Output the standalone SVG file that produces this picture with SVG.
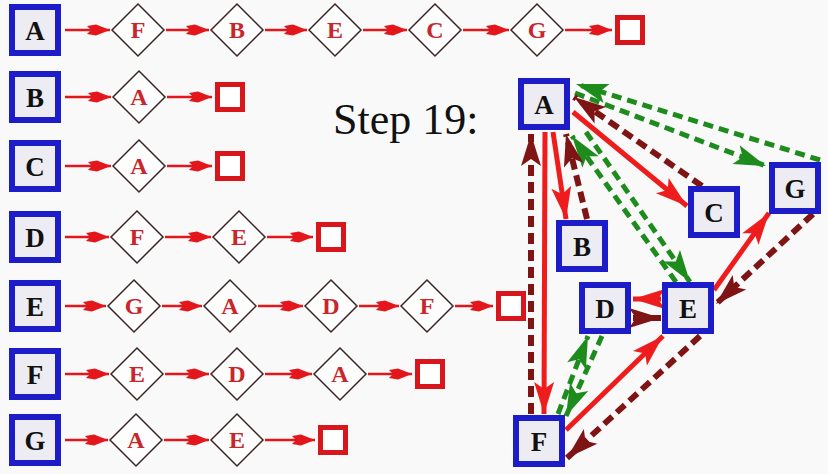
<svg xmlns="http://www.w3.org/2000/svg" width="828" height="474" viewBox="0 0 828 474">
<style>
.bg{fill:#f9f9f9}
.box{fill:#ececf2;stroke:#1c1cc8;stroke-width:6}
.lbl{font-family:"Liberation Serif",serif;font-weight:bold;font-size:27px;fill:#111;text-anchor:middle}
.dia{fill:#fdfdfd;stroke:#3a2626;stroke-width:1.5}
.dlbl{font-family:"Liberation Serif",serif;font-weight:bold;font-size:24px;fill:#c8262a;text-anchor:middle}
.end{fill:#fff;stroke:#d9161c;stroke-width:5}
.la{stroke:#e3161c;stroke-width:2.5;fill:none;marker-end:url(#mList)}
.red{stroke:#ee1c1c;stroke-width:5;fill:none;marker-end:url(#mRed)}
.dred{stroke:#7e1414;stroke-width:6;fill:none;stroke-dasharray:11 6;marker-end:url(#mDred)}
.dred2{stroke:#7e1414;stroke-width:6;fill:none;marker-end:url(#mDred)}
.grn{stroke:#1d8c1d;stroke-width:5;fill:none;stroke-dasharray:10 6;marker-end:url(#mGrn)}
.step{font-family:"Liberation Serif",serif;font-size:44px;fill:#111}
</style>
<defs>
<marker id="mList" markerUnits="userSpaceOnUse" viewBox="-24 -7 26 14" refX="0" refY="0" markerWidth="26" markerHeight="14" orient="auto">
<path d="M0,0 L-14,-5.5 L-23,-4 L-19,0 L-23,4 L-14,5.5 Z" fill="#e3161c"/>
</marker>
<marker id="mRed" markerUnits="userSpaceOnUse" viewBox="-34 -11 36 22" refX="0" refY="0" markerWidth="36" markerHeight="22" orient="auto">
<path d="M0,0 L-32,-10 L-25,0 L-32,10 Z" fill="#ee1c1c"/>
</marker>
<marker id="mDred" markerUnits="userSpaceOnUse" viewBox="-34 -11 36 22" refX="0" refY="0" markerWidth="36" markerHeight="22" orient="auto">
<path d="M0,0 L-32,-10 L-25,0 L-32,10 Z" fill="#7e1414"/>
</marker>
<marker id="mGrn" markerUnits="userSpaceOnUse" viewBox="-34 -11 36 22" refX="0" refY="0" markerWidth="36" markerHeight="22" orient="auto">
<path d="M0,0 L-32,-10 L-25,0 L-32,10 Z" fill="#1d8c1d"/>
</marker>
</defs>
<rect class="bg" x="0" y="0" width="828" height="474"/>

<g id="connectors">
<!-- adjacency lists -->
<line class="la" x1="65" y1="30" x2="110" y2="30"/>
<line class="la" x1="166" y1="30" x2="209" y2="30"/>
<line class="la" x1="265" y1="30" x2="307" y2="30"/>
<line class="la" x1="363" y1="30" x2="407" y2="30"/>
<line class="la" x1="463" y1="30" x2="509" y2="30"/>
<line class="la" x1="565" y1="30" x2="612" y2="30"/>

<line class="la" x1="65" y1="97" x2="111" y2="97"/>
<line class="la" x1="167" y1="97" x2="212" y2="97"/>

<line class="la" x1="65" y1="166" x2="111" y2="166"/>
<line class="la" x1="167" y1="166" x2="212" y2="166"/>

<line class="la" x1="65" y1="237" x2="109" y2="237"/>
<line class="la" x1="165" y1="237" x2="211" y2="237"/>
<line class="la" x1="267" y1="237" x2="313" y2="237"/>

<line class="la" x1="65" y1="306" x2="106" y2="306"/>
<line class="la" x1="162" y1="306" x2="202" y2="306"/>
<line class="la" x1="258" y1="306" x2="303" y2="306"/>
<line class="la" x1="359" y1="306" x2="399" y2="306"/>
<line class="la" x1="455" y1="306" x2="493" y2="306"/>

<line class="la" x1="65" y1="374" x2="109" y2="374"/>
<line class="la" x1="165" y1="374" x2="209" y2="374"/>
<line class="la" x1="265" y1="374" x2="312" y2="374"/>
<line class="la" x1="368" y1="374" x2="412" y2="374"/>

<line class="la" x1="65" y1="440" x2="108" y2="440"/>
<line class="la" x1="164" y1="440" x2="209" y2="440"/>
<line class="la" x1="265" y1="440" x2="315" y2="440"/>

<!-- graph: green dashed -->
<line class="grn" x1="820" y1="160" x2="576" y2="84"/>
<line class="grn" x1="575" y1="93" x2="766" y2="166"/>
<line class="grn" x1="676" y1="282" x2="572" y2="136"/>
<line class="grn" x1="586" y1="132" x2="690" y2="282"/>
<line class="grn" x1="558" y1="414" x2="588" y2="336"/>
<line class="grn" x1="602" y1="336" x2="566" y2="416"/>

<!-- graph: dark red dashed (returns) -->
<line class="dred" x1="702" y1="186" x2="574" y2="97"/>
<line class="dred" x1="587" y1="219" x2="566" y2="134"/>
<line class="dred" x1="531" y1="414" x2="531" y2="134"/>
<line class="dred" x1="813" y1="214" x2="716" y2="304"/>
<line class="dred" x1="700" y1="336" x2="567" y2="458"/>
<line class="dred2" x1="633" y1="318" x2="661" y2="318"/>

<!-- graph: red solid (tree edges) -->
<line class="red" x1="573" y1="112" x2="687" y2="206"/>
<line class="red" x1="553" y1="132" x2="566" y2="219"/>
<line class="red" x1="545" y1="132" x2="544" y2="414"/>
<line class="red" x1="566" y1="430" x2="663" y2="336"/>
<line class="red" x1="714" y1="290" x2="769" y2="213"/>
<line class="red" x1="661" y1="299" x2="633" y2="299"/>
</g>

<text class="step" x="333" y="134">Step 19:</text>

<!-- adjacency list heads -->
<g id="list-A"><rect class="box" x="12" y="7" width="46" height="46"/><text class="lbl" x="35" y="40">A</text></g>
<g id="list-B"><rect class="box" x="12" y="74" width="46" height="46"/><text class="lbl" x="35" y="107">B</text></g>
<g id="list-C"><rect class="box" x="12" y="143" width="46" height="46"/><text class="lbl" x="35" y="176">C</text></g>
<g id="list-D"><rect class="box" x="12" y="214" width="46" height="46"/><text class="lbl" x="35" y="247">D</text></g>
<g id="list-E"><rect class="box" x="12" y="283" width="46" height="46"/><text class="lbl" x="35" y="316">E</text></g>
<g id="list-F"><rect class="box" x="12" y="351" width="46" height="46"/><text class="lbl" x="35" y="384">F</text></g>
<g id="list-G"><rect class="box" x="12" y="417" width="46" height="46"/><text class="lbl" x="35" y="450">G</text></g>

<!-- row A entries -->
<g id="A-1"><polygon class="dia" points="138,4 164,30 138,56 112,30"/><text class="dlbl" x="138" y="38">F</text></g>
<g id="A-2"><polygon class="dia" points="237,4 263,30 237,56 211,30"/><text class="dlbl" x="237" y="38">B</text></g>
<g id="A-3"><polygon class="dia" points="335,4 361,30 335,56 309,30"/><text class="dlbl" x="335" y="38">E</text></g>
<g id="A-4"><polygon class="dia" points="435,4 461,30 435,56 409,30"/><text class="dlbl" x="435" y="38">C</text></g>
<g id="A-5"><polygon class="dia" points="537,4 563,30 537,56 511,30"/><text class="dlbl" x="537" y="38">G</text></g>
<g id="A-end"><rect class="end" x="617.5" y="17.5" width="25" height="25"/></g>

<!-- row B -->
<g id="B-1"><polygon class="dia" points="139,71 165,97 139,123 113,97"/><text class="dlbl" x="139" y="105">A</text></g>
<g id="B-end"><rect class="end" x="217.5" y="84.5" width="25" height="25"/></g>

<!-- row C -->
<g id="C-1"><polygon class="dia" points="139,140 165,166 139,192 113,166"/><text class="dlbl" x="139" y="174">A</text></g>
<g id="C-end"><rect class="end" x="217.5" y="153.5" width="25" height="25"/></g>

<!-- row D -->
<g id="D-1"><polygon class="dia" points="137,211 163,237 137,263 111,237"/><text class="dlbl" x="137" y="245">F</text></g>
<g id="D-2"><polygon class="dia" points="239,211 265,237 239,263 213,237"/><text class="dlbl" x="239" y="245">E</text></g>
<g id="D-end"><rect class="end" x="318.5" y="224.5" width="25" height="25"/></g>

<!-- row E -->
<g id="E-1"><polygon class="dia" points="134,280 160,306 134,332 108,306"/><text class="dlbl" x="134" y="314">G</text></g>
<g id="E-2"><polygon class="dia" points="230,280 256,306 230,332 204,306"/><text class="dlbl" x="230" y="314">A</text></g>
<g id="E-3"><polygon class="dia" points="331,280 357,306 331,332 305,306"/><text class="dlbl" x="331" y="314">D</text></g>
<g id="E-4"><polygon class="dia" points="427,280 453,306 427,332 401,306"/><text class="dlbl" x="427" y="314">F</text></g>
<g id="E-end"><rect class="end" x="498.5" y="293.5" width="25" height="25"/></g>

<!-- row F -->
<g id="F-1"><polygon class="dia" points="137,348 163,374 137,400 111,374"/><text class="dlbl" x="137" y="382">E</text></g>
<g id="F-2"><polygon class="dia" points="237,348 263,374 237,400 211,374"/><text class="dlbl" x="237" y="382">D</text></g>
<g id="F-3"><polygon class="dia" points="340,348 366,374 340,400 314,374"/><text class="dlbl" x="340" y="382">A</text></g>
<g id="F-end"><rect class="end" x="417.5" y="361.5" width="25" height="25"/></g>

<!-- row G -->
<g id="G-1"><polygon class="dia" points="136,414 162,440 136,466 110,440"/><text class="dlbl" x="136" y="448">A</text></g>
<g id="G-2"><polygon class="dia" points="237,414 263,440 237,466 211,440"/><text class="dlbl" x="237" y="448">E</text></g>
<g id="G-end"><rect class="end" x="320.5" y="427.5" width="25" height="25"/></g>

<!-- graph nodes -->
<g id="node-A"><rect class="box" x="521" y="81" width="46" height="46"/><text class="lbl" x="544" y="114">A</text></g>
<g id="node-B"><rect class="box" x="559" y="223" width="46" height="46"/><text class="lbl" x="582" y="256">B</text></g>
<g id="node-C"><rect class="box" x="691" y="189" width="46" height="46"/><text class="lbl" x="714" y="222">C</text></g>
<g id="node-D"><rect class="box" x="582" y="285" width="46" height="46"/><text class="lbl" x="605" y="318">D</text></g>
<g id="node-E"><rect class="box" x="665" y="285" width="46" height="46"/><text class="lbl" x="688" y="318">E</text></g>
<g id="node-F"><rect class="box" x="516" y="418" width="46" height="46"/><text class="lbl" x="539" y="451">F</text></g>
<g id="node-G"><rect class="box" x="772" y="165" width="46" height="46"/><text class="lbl" x="795" y="198">G</text></g>
</svg>
